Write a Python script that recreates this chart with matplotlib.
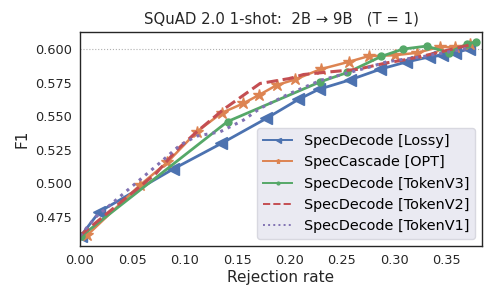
import matplotlib
matplotlib.use("Agg")
import matplotlib.pyplot as plt

# SpecDecode [Lossy]
lossy_x = [0.001, 0.0185, 0.089, 0.135, 0.178, 0.2087, 0.228, 0.258, 0.287, 0.311, 0.333, 0.346, 0.3585, 0.3712]
lossy_y = [0.461, 0.4788, 0.5107, 0.5298, 0.5485, 0.5627, 0.5702, 0.5773, 0.5853, 0.5905, 0.5943, 0.5957, 0.5975, 0.6003]

# SpecCascade [OPT]
opt_x = [0.007, 0.057, 0.0835, 0.1115, 0.1355, 0.156, 0.1714, 0.188, 0.2055, 0.230, 0.2565, 0.2756,
         0.301, 0.3218, 0.344, 0.3585, 0.373]
opt_y = [0.4614, 0.4985, 0.5158, 0.5385, 0.5527, 0.5597, 0.5662, 0.5734, 0.5776, 0.5853, 0.5907, 0.595,
         0.5957, 0.5975, 0.602, 0.6015, 0.6038]

# SpecDecode [TokenV3]
v3_x = [0.001, 0.141, 0.2294, 0.2555, 0.2878, 0.3085, 0.331, 0.352, 0.3697, 0.378]
v3_y = [0.4605, 0.5462, 0.5758, 0.5828, 0.5948, 0.6003, 0.6025, 0.5977, 0.604, 0.6057]

# SpecDecode [TokenV2]
v2_x = [0.0, 0.0727, 0.0924, 0.1115, 0.137, 0.172, 0.2008, 0.2135, 0.239, 0.2645, 0.293, 0.312, 0.331, 0.373]
v2_y = [0.461, 0.5075, 0.5249, 0.5385, 0.5552, 0.5746, 0.5784, 0.5813, 0.5833, 0.5851, 0.590, 0.5925, 0.5957, 0.6035]

# SpecDecode [TokenV1]
v1_x = [0.0, 0.0153, 0.0758, 0.0956, 0.1115, 0.1338, 0.156, 0.172, 0.2, 0.23, 0.2772, 0.293, 0.33, 0.372]
v1_y = [0.461, 0.475, 0.515, 0.5286, 0.5353, 0.5385, 0.5472, 0.556, 0.567, 0.577, 0.587, 0.5908, 0.595, 0.601]

fig = plt.figure(figsize=(5, 3), dpi=100)
ax = fig.add_axes([0.16, 0.18, 0.804, 0.713])

ax.axhline(0.6, color='#b0b0b0', linestyle=':', linewidth=0.8)

ax.plot(lossy_x, lossy_y, color='#4C72B0', marker='<', markersize=9, linewidth=2, label='SpecDecode [Lossy]')
ax.plot(opt_x, opt_y, color='#DD8452', marker='*', markersize=9, linewidth=1.8, label='SpecCascade [OPT]')
ax.plot(v3_x, v3_y, color='#55A868', marker='o', markersize=5, linewidth=2, label='SpecDecode [TokenV3]')
ax.plot(v2_x, v2_y, color='#C44E52', linestyle='--', linewidth=2.2, label='SpecDecode [TokenV2]')
ax.plot(v1_x, v1_y, color='#8172B3', linestyle=':', linewidth=2.2, label='SpecDecode [TokenV1]')

ax.set_xlim(0, 0.384)
ax.margins(y=0.05)
ax.set_xticks([0.0, 0.05, 0.10, 0.15, 0.20, 0.25, 0.30, 0.35])
ax.set_yticks([0.475, 0.500, 0.525, 0.550, 0.575, 0.600])
ax.xaxis.set_major_formatter(matplotlib.ticker.FormatStrFormatter('%.2f'))
ax.yaxis.set_major_formatter(matplotlib.ticker.FormatStrFormatter('%.3f'))
ax.tick_params(length=0, labelsize=9.3, colors='#262626', pad=6)
for s in ax.spines.values():
    s.set_color('#262626')
    s.set_linewidth(1.0)

ax.set_xlabel('Rejection rate', fontsize=11, color='#262626', labelpad=2)
ax.set_ylabel('F1', fontsize=11, color='#262626')
ax.set_title('SQuAD 2.0 1-shot:  2B \u2192 9B   (T = 1)', fontsize=10.7, color='#262626')

leg = ax.legend(loc='lower right', fontsize=10.4, markerscale=0.4, facecolor='#EAEAF2',
                edgecolor='#d8d8e0', framealpha=1.0)
for line in leg.get_lines():
    line.set_linewidth(1.4)

fig.savefig('out.png', dpi=100)
